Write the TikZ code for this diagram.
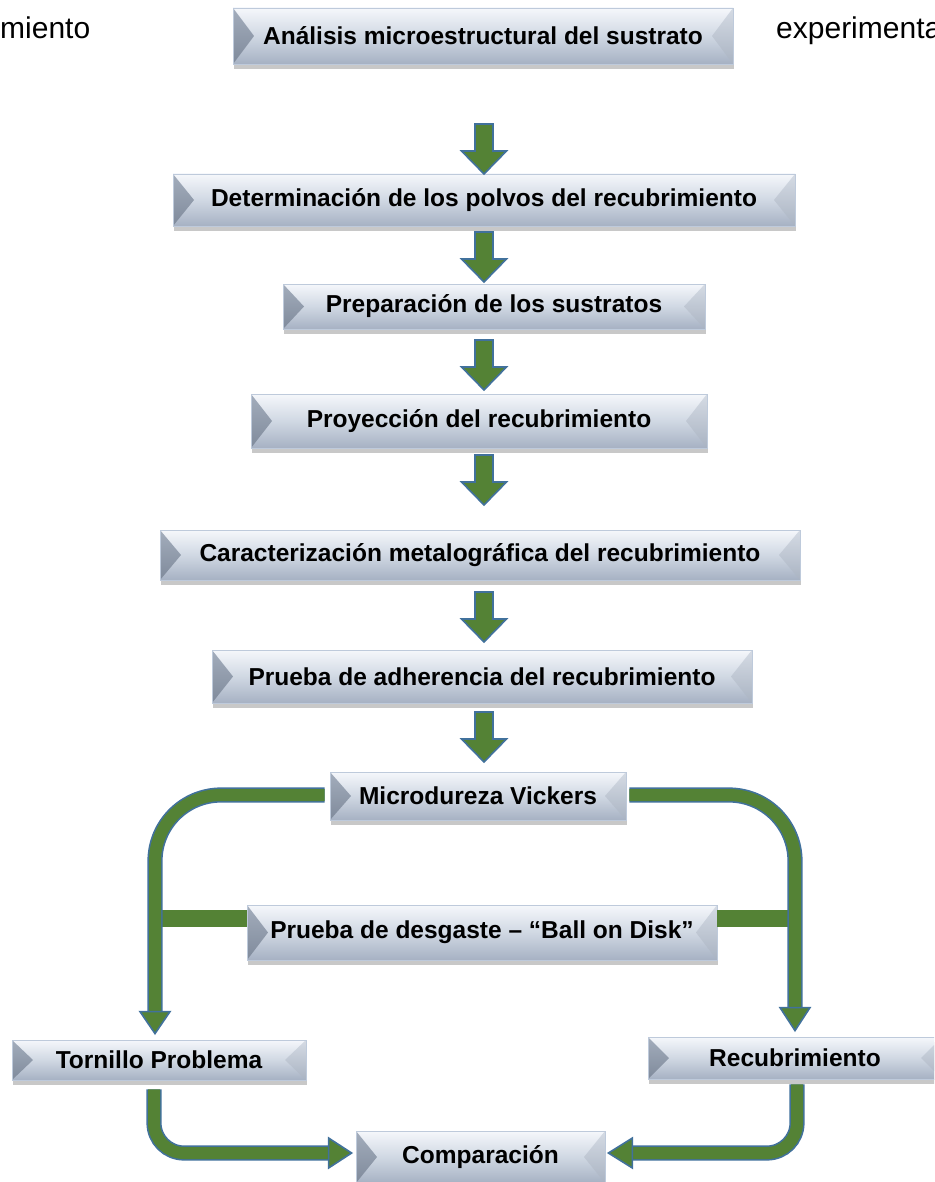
\documentclass[tikz,border=0pt]{standalone}
\usepackage{fontspec}
\setmainfont{Liberation Sans}
\usetikzlibrary{calc,shadows}
\definecolor{grn}{HTML}{548235}
\definecolor{blu}{HTML}{41719C}
\definecolor{facetop}{HTML}{F5F7FB}
\definecolor{facemid}{HTML}{D0D8E3}
\definecolor{facebot}{HTML}{A6B1C3}
\definecolor{bevLt}{HTML}{A3ADBC}
\definecolor{bevLb}{HTML}{7F8A9B}
\definecolor{bevRt}{HTML}{D5DBE4}
\definecolor{bevRb}{HTML}{A9B3C2}
\definecolor{edgec}{HTML}{BECADB}
\tikzset{
  bevel/.style={rectangle, inner sep=0pt, draw=edgec, line width=0.8pt,
    top color=facetop, bottom color=facebot, middle color=facemid,
    drop shadow={shadow xshift=1pt, shadow yshift=-5pt, opacity=0.3, fill=black!70},
    font=\fontsize{24.5}{29}\selectfont\bfseries, text=black,
    path picture={
      \shade[top color=bevLt, bottom color=bevLb]
        (path picture bounding box.north west) -- ([xshift=21pt]path picture bounding box.west)
        -- (path picture bounding box.south west) -- cycle;
      \shade[top color=bevRt, bottom color=bevRb]
        (path picture bounding box.north east) -- ([xshift=-21pt]path picture bounding box.east)
        -- (path picture bounding box.south east) -- cycle;
    }},
  fatarrow/.style={fill=grn, draw=blu, line width=1.6pt, line join=miter},
  band/.style={draw=blu, double=grn, double distance=12pt, line width=1.6pt},
  plainband/.style={draw=grn, line width=17pt},
  toptext/.style={inner sep=0pt, anchor=base west, font=\fontsize{30}{35}\selectfont}
}
\newcommand{\fatdown}[1]{%
  \draw[fatarrow] ($(#1)+(-9,0)$) -- ++(18,0) -- ++(0,27) -- ++(13.5,0)
    -- ($(#1)+(0,50)$) -- ++(-22.5,-23) -- ++(13.5,0) -- cycle;}
\begin{document}
\begin{tikzpicture}[x=1pt,y=-1pt]
\useasboundingbox (0,0) rectangle (934,1182);
\clip (0,0) rectangle (934,1182);
\fill[white] (0,0) rectangle (934,1182);

\node[toptext] (t1) at (0,39) {miento};
\node[toptext] (t2) at (776,39) {experimenta};

\node[bevel, minimum width=500pt, minimum height=56pt] (b1) at (483,36) {Análisis microestructural del sustrato};
\node[bevel, minimum width=622pt, minimum height=52pt] (b2) at (484,200) {Determinación de los polvos del recubrimiento};
\node[bevel, minimum width=422pt, minimum height=45pt] (b3) at (494,306.5) {Preparación de los sustratos};
\node[bevel, minimum width=456pt, minimum height=54pt] (b4) at (479,421) {Proyección del recubrimiento};
\node[bevel, minimum width=640pt, minimum height=50pt] (b5) at (480,555) {Caracterización metalográfica del recubrimiento};
\node[bevel, minimum width=540pt, minimum height=53pt] (b6) at (482,676.5) {Prueba de adherencia del recubrimiento};
\node[bevel, minimum width=296pt, minimum height=48pt] (b7) at (478,796) {Microdureza Vickers};
\node[bevel, minimum width=470pt, minimum height=55pt] (b8) at (482,932.5) {Prueba de desgaste – “Ball on Disk”};
\node[bevel, minimum width=294pt, minimum height=40pt] (b9) at (159,1060) {Tornillo Problema};
\node[bevel, minimum width=294pt, minimum height=42pt] (b10) at (795,1058) {Recubrimiento};
\node[bevel, minimum width=249pt, minimum height=52pt] (b11) at (480.5,1157) {Comparación};

% straight arrows
\coordinate (a1) at (484,124);
\coordinate (a2) at (484,232);
\coordinate (a3) at (484,340);
\coordinate (a4) at (484,455);
\coordinate (a5) at (484,592);
\coordinate (a6) at (484,712);
\foreach \a in {a1,a2,a3,a4,a5,a6} {\fatdown{\a}}

% side connectors from Microdureza
\draw[plainband] ($(b8.west)+(0,-14)$) -- ++(-97,0);
\draw[plainband] ($(b8.east)+(0,-14)$) -- ++(83,0);
\draw[band, rounded corners=66pt] ($(b7.west)+(-5,-1)$) -| ($(b9.north)+(-4,-28)$);
\draw[band, rounded corners=66pt] ($(b7.east)+(3,-1)$) -| ($(b10.north)+(0,-29)$);
\draw[fatarrow] ($(b9.north)+(-19,-28)$) -- ($(b9.north)+(11,-28)$) -- ($(b9.north)+(-4,-6)$) -- cycle;
\draw[fatarrow] ($(b10.north)+(-15,-29)$) -- ($(b10.north)+(15,-29)$) -- ($(b10.north)+(0,-6)$) -- cycle;

% bottom connectors to Comparación
\draw[band, rounded corners=30pt] ($(b9.south)+(-5,9)$) |- ($(b11.west)+(-27,-4)$);
\draw[band, rounded corners=30pt] ($(b10.south)+(2,5)$) |- ($(b11.east)+(27,-4)$);
\draw[fatarrow] ($(b11.west)+(-27,-19)$) -- ($(b11.west)+(-27,11)$) -- ($(b11.west)+(-4,-4)$) -- cycle;
\draw[fatarrow] ($(b11.east)+(27,-19)$) -- ($(b11.east)+(27,11)$) -- ($(b11.east)+(3,-4)$) -- cycle;
\end{tikzpicture}
\end{document}
